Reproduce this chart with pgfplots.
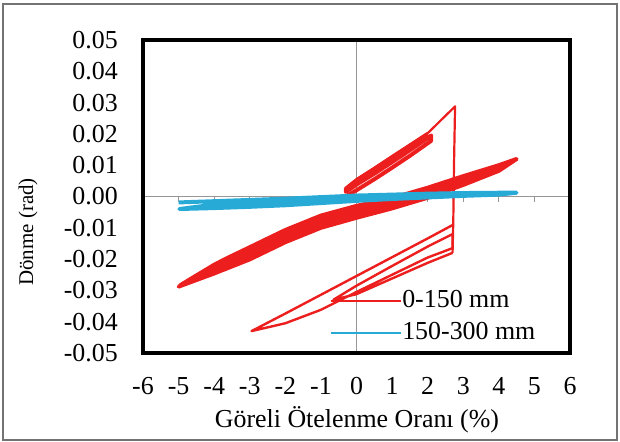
\documentclass[border=0pt]{standalone}
\usepackage{fontspec}
\setmainfont{Liberation Serif}
\usepackage{pgfplots}
\pgfplotsset{compat=1.18}
\definecolor{redline}{RGB}{236,30,30}
\definecolor{cyanline}{RGB}{40,170,215}
\definecolor{zerogray}{RGB}{150,150,150}
\begin{document}
\begin{tikzpicture}
\useasboundingbox (0,0) rectangle (620bp,442bp);
\draw[line width=1.2bp, black!55] (3bp,2bp) rectangle (617bp,438bp);
\begin{axis}[
  at={(143bp,89bp)}, anchor=south west,
  scale only axis, width=427bp, height=313bp,
  xmin=-6, xmax=6, ymin=-0.05, ymax=0.05,
  scaled y ticks=false, scaled x ticks=false,
  axis on top,
  axis line style={line width=4.5bp},
  major tick length=0pt, tick style={draw=none},
  xtick={-6,-5,-4,-3,-2,-1,0,1,2,3,4,5,6},
  xticklabels={-6,-5,-4,-3,-2,-1,0,1,2,3,4,5,6},
  ytick={-0.05,-0.04,-0.03,-0.02,-0.01,0,0.01,0.02,0.03,0.04,0.05},
  yticklabels={-0.05,-0.04,-0.03,-0.02,-0.01,0.00,0.01,0.02,0.03,0.04,0.05},
  xticklabel style={anchor=north, inner sep=0pt, yshift=-24bp, font=\fontsize{26}{30}\selectfont},
  yticklabel style={anchor=east, inner sep=0pt, xshift=-25bp, font=\fontsize{26}{30}\selectfont},
  xlabel={Göreli Ötelenme Oranı (\%)},
  ylabel={Dönme (rad)},
  xlabel style={at={(axis description cs:0.501,-0.214)}, anchor=center, font=\fontsize{26}{30}\selectfont},
  ylabel style={at={(axis description cs:-0.269,0.387)}, anchor=center, font=\fontsize{21}{25}\selectfont},
  legend cell align=left,
  legend style={draw=none, fill=none, at={(axis description cs:0.43,0.115)}, anchor=west,
    font=\fontsize{26}{30}\selectfont, row sep=6bp,
    nodes={inner sep=1bp, text height=18bp, text depth=6bp}},
  legend image code/.code={\draw[#1, line width=1.5bp] (0bp,0bp) -- (70bp,0bp);},
]
% zero axes
\addplot[zerogray, line width=1bp, forget plot] coordinates {(-6,0) (6,0)};
\addplot[zerogray, line width=1bp, forget plot] coordinates {(0,-0.05) (0,0.05)};
\addplot[zerogray, line width=0.8bp, ycomb, forget plot] coordinates {(-5,-0.0018) (-4,-0.0018) (-3,-0.0018) (-2,-0.0018) (-1,-0.0018) (1,-0.0018) (2,-0.0018) (3,-0.0018) (4,-0.0018) (5,-0.0018) (6,-0.0018)};
% 0-150 mm : middle band (several cycles)
\addplot[redline, line width=4bp, line join=round] coordinates {
(-3.64,-0.0197)(-3,-0.0162)(-2,-0.0107)(-1,-0.0061)(0,-0.0030)(1,-0.0005)(2,0.0028)(3,0.0065)(4,0.0100)(4.5,0.0120)
(4,0.0082)(3,0.0037)(2,-0.0004)(1,-0.0038)(0,-0.0068)(-1,-0.0100)(-2,-0.0146)(-3,-0.0201)(-4,-0.0246)(-5.0,-0.0288)
(-4,-0.0227)(-3,-0.0175)(-2,-0.0120)(-1,-0.0074)(0,-0.0043)(1,-0.0016)(2,0.0017)(3,0.0056)(4,0.0094)(4.3,0.0108)
(4,0.0088)(3,0.0046)(2,0.0007)(1,-0.0027)(0,-0.0055)(-1,-0.0087)(-2,-0.0133)(-3,-0.0188)(-4,-0.0237)(-4.95,-0.0283)
(-4,-0.0218)(-3.64,-0.0197)
};
\addlegendentry{0-150 mm}
% upper loops
\addplot[redline, line width=4bp, line join=round, forget plot] coordinates {
(-0.5,-0.0015)(0,0.0020)(0.5,0.0055)(1.0,0.0092)(1.5,0.0130)(2.1,0.0178)
(2.1,0.0195)(1.5,0.0148)(1.0,0.0110)(0.5,0.0073)(0,0.0038)(-0.3,0.0015)
(-0.3,0.0025)(0,0.0052)(0.5,0.0088)(1.0,0.0126)(1.5,0.0163)(2.0,0.0200)
};
\addplot[redline, line width=2.2bp, line join=round, forget plot] coordinates {
(0,0.0055)(1.0,0.0128)(2.0,0.0202)(2.77,0.0288)
(2.74,0.0100)(2.72,-0.0080)(2.70,-0.0180)
};
% lower loops
\addplot[redline, line width=2.4bp, line join=round, forget plot] coordinates {
(2.72,-0.0090)(2.0,-0.0134)(1.0,-0.0194)(0,-0.0254)(-1.0,-0.0314)(-2.0,-0.0374)(-2.95,-0.0430)
(-2.0,-0.0405)(-1.0,-0.0362)(0,-0.0305)(1.0,-0.0250)(2.0,-0.0195)(2.70,-0.0165)
(2.70,-0.0120)(2.0,-0.0160)(1.0,-0.0222)(0,-0.0285)(-0.65,-0.0330)
(0,-0.0312)(1.0,-0.0262)(2.0,-0.0212)(2.70,-0.0180)
};
% 150-300 mm
\addplot[cyanline, line width=4bp, line join=round] coordinates {
(-5.0,-0.0019)(-4,-0.0015)(-3,-0.0011)(-2,-0.0007)(-1,-0.0002)(0,0.0003)(1,0.0006)(2,0.0009)(3,0.0011)(4,0.0012)(4.5,0.0012)
(4,0.0006)(3,0.0002)(2,-0.0003)(1,-0.0008)(0,-0.0014)(-1,-0.0021)(-2,-0.0028)(-3,-0.0033)(-4,-0.0037)(-4.98,-0.0040)
(-4,-0.0026)(-3,-0.0022)(-2,-0.0017)(-1,-0.0011)(0,-0.0005)(1,0.0000)(2,0.0003)(3,0.0006)
};
\addlegendentry{150-300 mm}
\end{axis}
\end{tikzpicture}
\end{document}
